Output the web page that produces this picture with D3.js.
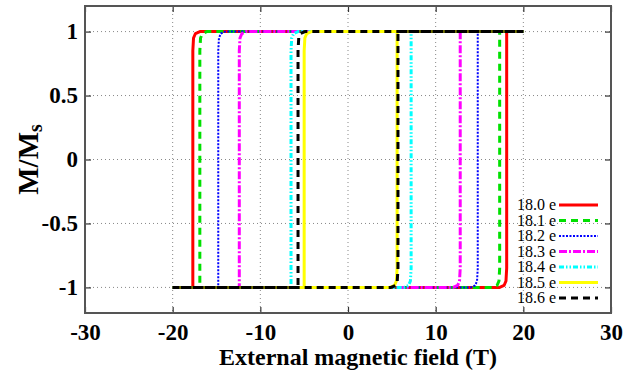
<!DOCTYPE html>
<html>
<head>
<meta charset="utf-8">
<script src="https://cdn.jsdelivr.net/npm/d3@7/dist/d3.min.js"></script>
<style>
  body { margin: 0; background: #fff; }
  svg { display: block; }
</style>
</head>
<body>
<svg id="chart" width="641" height="373"></svg>
<script>
// series labels (electron count)
var labels = ["18.0 e", "18.1 e", "18.2 e", "18.3 e", "18.4 e", "18.5 e", "18.6 e"];
// switching field on the descending branch (M: 1 -> -1), in T
var hcDown = [-17.7, -16.9, -14.8, -12.4, -6.5, -5.0, -5.7];
// switching field on the ascending branch (M: -1 -> 1), in T
var hcUp = [18.1, 17.3, 14.8, 12.8, 7.2, 5.6, 5.7];
// field sweep limits
var fieldMin = -20, fieldMax = 20;
var xTicks = [-30, -20, -10, 0, 10, 20, 30];
var yTicks = [-1, -0.5, 0, 0.5, 1];

var colors = ["#ff0000", "#00e000", "#0000ff", "#ff00ff", "#00ffff", "#ffff00", "#000000"];
var dashes = [null, "7,5", "2,1.5", "8,2,2,2", "5,2,1.5,2,1.5,2", null, "7,5"];
var widths = [3, 3, 2, 3, 3, 3, 3];
var serif = "'Liberation Serif', 'DejaVu Serif', serif";

var W = 641, H = 373;
var m = {left: 85, right: 30, top: 6, bottom: 60};
var w = W - m.left - m.right, h = H - m.top - m.bottom;

var svg = d3.select("#chart");
var g = svg.append("g").attr("transform", "translate(" + m.left + "," + m.top + ")");

var x = d3.scaleLinear().domain([-30, 30]).range([0, w]);
var y = d3.scaleLinear().domain([-1.2, 1.2]).range([h, 0]);

// grid
g.append("g").selectAll("line").data(xTicks.slice(1, -1)).enter().append("line")
  .attr("x1", function(d){ return x(d); }).attr("x2", function(d){ return x(d); })
  .attr("y1", 0).attr("y2", h)
  .attr("stroke", "#888").attr("stroke-width", 1).attr("stroke-dasharray", "1,3");
g.append("g").selectAll("line").data(yTicks).enter().append("line")
  .attr("y1", function(d){ return y(d); }).attr("y2", function(d){ return y(d); })
  .attr("x1", 0).attr("x2", w)
  .attr("stroke", "#888").attr("stroke-width", 1).attr("stroke-dasharray", "1,3");

// axes (ticks inward on all four sides)
var fmt = function(d){ return d3.format("")(d).replace("\u2212", "-"); };
var ax = g.append("g").attr("transform", "translate(0," + h + ")")
  .call(d3.axisBottom(x).tickValues(xTicks).tickSizeInner(-6).tickSizeOuter(0).tickPadding(11).tickFormat(fmt));
var ay = g.append("g")
  .call(d3.axisLeft(y).tickValues(yTicks).tickSizeInner(-6).tickSizeOuter(0).tickPadding(7).tickFormat(fmt));
var at = g.append("g")
  .call(d3.axisTop(x).tickValues(xTicks).tickSizeInner(-6).tickSizeOuter(0).tickFormat(""));
var ar = g.append("g").attr("transform", "translate(" + w + ",0)")
  .call(d3.axisRight(y).tickValues(yTicks).tickSizeInner(-6).tickSizeOuter(0).tickFormat(""));
[ax, ay, at, ar].forEach(function(a){
  a.attr("font-family", serif).attr("font-size", 23).attr("font-weight", "bold");
  a.select(".domain").remove();
  a.selectAll(".tick line").attr("stroke", "#333").attr("stroke-width", 1.2);
  a.selectAll(".tick text").attr("fill", "#000");
});
ax.selectAll(".tick text").attr("dy", "0.71em");

// frame
g.append("rect").attr("width", w).attr("height", h)
  .attr("fill", "none").attr("stroke", "#555").attr("stroke-width", 2);

// loops
var line = d3.line().x(function(d){ return x(d[0]); }).y(function(d){ return y(d[1]); });
var plot = g.append("g");
labels.forEach(function(lab, i){
  var a = hcDown[i], b = hcUp[i];
  // descending branch with its rounded knee, then ascending branch
  var down = [[fieldMax, 1], [a + 0.8, 1], [a + 0.3, 0.985], [a + 0.08, 0.95], [a, 0.85], [a, -1], [fieldMin, -1]];
  var up = [[fieldMin, -1], [b - 0.8, -1], [b - 0.3, -0.985], [b - 0.08, -0.95], [b, -0.85], [b, 1], [fieldMax, 1]];
  [down, up].forEach(function(p){
    plot.append("path").attr("d", line(p))
      .attr("fill", "none").attr("stroke", colors[i]).attr("stroke-width", widths[i])
      .attr("stroke-dasharray", dashes[i]).attr("stroke-linejoin", "round");
  });
});

// legend
var leg = g.append("g").attr("transform", "translate(" + (w - 55) + "," + (h - 108) + ")")
  .attr("font-family", serif).attr("font-size", 16);
labels.forEach(function(lab, i){
  var row = leg.append("g").attr("transform", "translate(0," + (i * 15.5) + ")");
  row.append("text").attr("x", 0).attr("y", 0).attr("dy", "0.33em")
    .attr("text-anchor", "end")
    .text(lab);
  row.append("line").attr("x1", 3).attr("x2", 42).attr("y1", 0).attr("y2", 0)
    .attr("stroke", colors[i]).attr("stroke-width", widths[i]).attr("stroke-dasharray", dashes[i]);
});

// axis titles
svg.append("text").attr("x", 358).attr("y", 365).attr("text-anchor", "middle")
  .attr("font-family", serif).attr("font-weight", "bold").attr("font-size", 24)
  .text("External magnetic field (T)");
var yl = svg.append("text").attr("transform", "translate(38," + (m.top + h / 2) + ") rotate(-90)")
  .attr("text-anchor", "middle")
  .attr("font-family", serif).attr("font-weight", "bold").attr("font-size", 29);
yl.append("tspan").text("M/M");
yl.append("tspan").attr("dy", "0.2em").attr("font-size", 20).text("s");
</script>
</body>
</html>
